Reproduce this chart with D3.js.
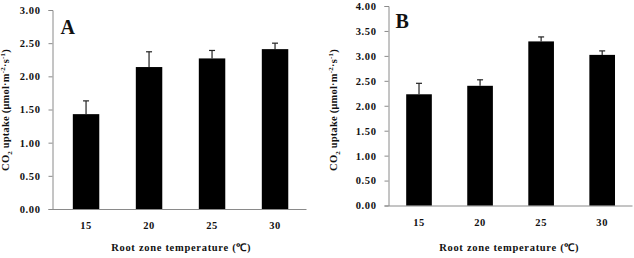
<!DOCTYPE html>
<html>
<head>
<meta charset="utf-8">
<script src="https://cdn.jsdelivr.net/npm/d3@7.9.0/dist/d3.min.js"></script>
<style>
  body { margin: 0; background: #fff; }
  svg text { font-family: "Liberation Serif", "Times New Roman", serif; font-weight: bold; fill: #111; }
</style>
</head>
<body>
<svg id="chart" width="634" height="258"></svg>
<script>
// data
const temps = ['15', '20', '25', '30'];
const uptakeA = [1.43, 2.14, 2.27, 2.41];
const errorA = [0.20, 0.23, 0.12, 0.09];
const uptakeB = [2.23, 2.40, 3.29, 3.02];
const errorB = [0.22, 0.12, 0.09, 0.08];
const ticksA = [0, 0.5, 1, 1.5, 2, 2.5, 3];
const ticksB = [0, 0.5, 1, 1.5, 2, 2.5, 3, 3.5, 4];

const svg = d3.select('#chart');

function drawPanel(opt) {
    let x = d3.scaleBand().domain(temps).range([opt.x0, opt.x1])
        .paddingInner(0.58).paddingOuter(opt.po).align(opt.align);
    let y = d3.scaleLinear().domain([0, opt.max]).range([opt.y0, opt.y1]);
    let g = svg.append('g');

    // y axis
    let yAxis = g.append('g')
        .attr('transform', `translate(${opt.x0},0)`)
        .call(d3.axisLeft(y).tickValues(opt.ticks).tickFormat(d3.format('.2f')).tickSizeOuter(0).tickSize(4).tickPadding(8));
    yAxis.select('.domain').attr('stroke', '#8a8a8a');
    yAxis.selectAll('.tick line').attr('stroke', '#8a8a8a');
    yAxis.selectAll('text').attr('font-size', 10.5).style('letter-spacing', '0.6px');

    // x axis
    let xAxis = g.append('g')
        .attr('transform', `translate(0,${opt.y0})`)
        .call(d3.axisBottom(x).tickSize(0).tickPadding(13));
    xAxis.select('.domain').attr('stroke', '#8a8a8a');
    xAxis.selectAll('text').attr('font-size', 10.5).style('letter-spacing', '0.6px');

    // bars
    g.selectAll('rect.bar').data(opt.values).join('rect')
        .attr('class', 'bar')
        .attr('x', (d, i) => x(temps[i]))
        .attr('width', x.bandwidth())
        .attr('y', d => y(d))
        .attr('height', d => y(0) - y(d))
        .attr('fill', '#000');

    // error bars (upper only)
    opt.values.forEach((v, i) => {
        let cx = x(temps[i]) + x.bandwidth() / 2;
        g.append('line').attr('x1', cx).attr('x2', cx)
            .attr('y1', y(v)).attr('y2', y(v + opt.errors[i]))
            .attr('stroke', '#222').attr('stroke-width', 1.2);
        g.append('line').attr('x1', cx - 3).attr('x2', cx + 3)
            .attr('y1', y(v + opt.errors[i])).attr('y2', y(v + opt.errors[i]))
            .attr('stroke', '#222').attr('stroke-width', 1.2);
    });

    // panel letter
    g.append('text').attr('x', opt.x0 + opt.letterDx).attr('y', opt.letterY)
        .attr('font-size', 20).text(opt.letter);

    // axis titles
    g.append('text')
        .attr('x', (opt.x0 + opt.x1) / 2 + opt.titleDx).attr('y', 251)
        .attr('text-anchor', 'middle').attr('font-size', 10.5)
        .style('letter-spacing', '0.7px')
        .text('Root zone temperature (\u2103)');

    let yt = g.append('text')
        .attr('transform', `translate(${opt.yTitleX},110) rotate(-90)`)
        .attr('text-anchor', 'middle').attr('font-size', 10.5)
        .style('letter-spacing', '0.2px');
    yt.append('tspan').text('CO');
    yt.append('tspan').attr('font-size', 7).attr('dy', 3).text('2');
    yt.append('tspan').attr('dy', -3).text(' uptake (\u03bcmol\u00b7m');
    yt.append('tspan').attr('font-size', 7).attr('dy', -4).text('-2');
    yt.append('tspan').attr('dy', 4).text('\u00b7s');
    yt.append('tspan').attr('font-size', 7).attr('dy', -4).text('-1');
    yt.append('tspan').attr('dy', 4).text(')');
}

drawPanel({ x0: 52.5, x1: 306, y0: 209, y1: 10, max: 3, ticks: ticksA,
    values: uptakeA, errors: errorA, po: 0.302, align: 0.534,
    letter: 'A', letterDx: 8, letterY: 34, yTitleX: 9, titleDx: 2 });
drawPanel({ x0: 388.5, x1: 632, y0: 205.5, y1: 6, max: 4, ticks: ticksB,
    values: uptakeB, errors: errorB, po: 0.284, align: 0.51,
    letter: 'B', letterDx: 7, letterY: 28, yTitleX: 337, titleDx: -1 });
</script>
</body>
</html>
